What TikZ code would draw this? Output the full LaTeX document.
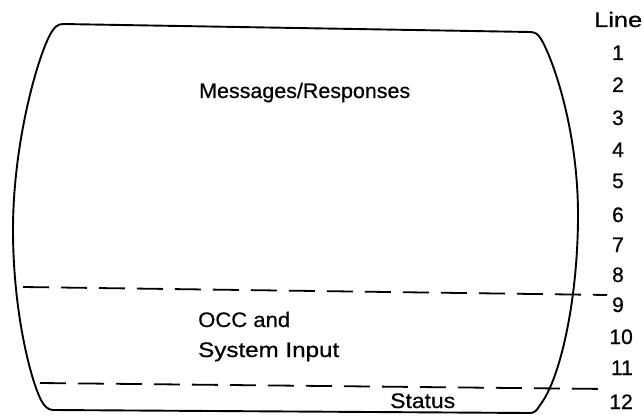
\documentclass[tikz,border=0pt]{standalone}
\usepackage{graphicx}
\usepackage{fontspec}
\setmainfont{Liberation Sans}[FakeBold=0.6]
\newcommand{\fitw}[2]{\resizebox{#1}{\height}{#2}}
\begin{document}
\begin{tikzpicture}[x=1pt,y=-1pt,
  outline/.style={line width=1.9pt,line join=round},
  sep/.style={line width=1.8pt,dash pattern=on 26pt off 12pt},
  lbl/.style={inner sep=0pt,font=\fontsize{21}{25}\selectfont},
  num/.style={lbl,anchor=base east}]
\useasboundingbox (0,0) rectangle (644,417);
% screen outline
\draw[outline] (63,24) -- (530,32)
  .. controls (535,32) and (538,34) .. (541,39)
  .. controls (553,59) and (578,130) .. (578,215)
  .. controls (578,300) and (560,380) .. (540,405)
  .. controls (537,410) and (535,413) .. (530,413)
  -- (53,410)
  .. controls (48,410) and (44,406) .. (41,400)
  .. controls (30,378) and (13,310) .. (13,230)
  .. controls (13,140) and (39,53) .. (51,33)
  .. controls (54,28) and (57,24) .. (63,24) -- cycle;
% separators
\coordinate (s1a) at (23,287);
\coordinate (s1b) at (607,295);
\coordinate (s2a) at (40,383);
\coordinate (s2b) at (607,389);
\draw[sep] (s1a) -- (s1b);
\draw[sep] (s2a) -- (s2b);
% area labels
\node[lbl,anchor=base west] (msg) at (199,98) {\fitw{211pt}{Messages/Responses}};
\node[lbl,anchor=base west] (occ) at (198,327) {\fitw{92pt}{OCC and}};
\node[lbl,anchor=base west] (sys) at (198,357) {\fitw{141pt}{System Input}};
\node[lbl,anchor=base west] (stat) at (390,408) {\fitw{65pt}{Status}};
% line numbers
\node[lbl,anchor=base west] (line) at (594,27) {\fitw{48pt}{Line}};
\node[num] (n1) at (624,60) {1};
\node[num] (n2) at (624,92) {2};
\node[num] (n3) at (624,125) {3};
\node[num] (n4) at (624,157) {4};
\node[num] (n5) at (624,188) {5};
\node[num] (n6) at (624,222) {6};
\node[num] (n7) at (624,252) {7};
\node[num] (n8) at (624,282) {8};
\node[num] (n9) at (624,312) {9};
\node[num] (n10) at (633,344) {10};
\node[num] (n11) at (633,375) {11};
\node[num] (n12) at (633,409) {12};
\end{tikzpicture}
\end{document}
